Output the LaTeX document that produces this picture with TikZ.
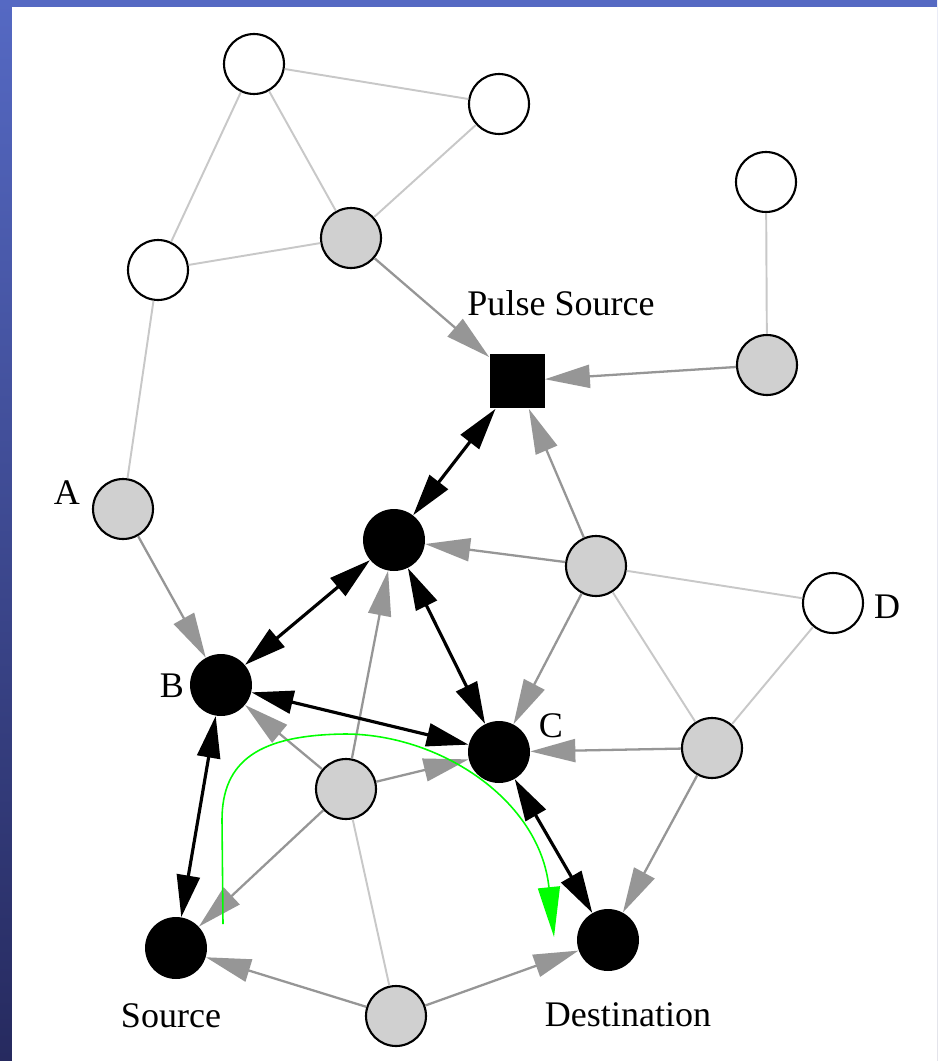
\documentclass[tikz,border=0pt]{standalone}
\usepackage{fontspec}
\setmainfont{Liberation Serif}
\usetikzlibrary{arrows.meta}

\definecolor{lieve}{RGB}{200,200,200}
\definecolor{medio}{RGB}{150,150,150}
\definecolor{nodogrigio}{RGB}{208,208,208}
\definecolor{verde}{RGB}{0,255,0}
\definecolor{bluchiaro}{RGB}{85,105,195}
\definecolor{bluscuro}{RGB}{38,42,95}

\tikzset{
    vuoto/.style={circle,draw,line width=1.2pt,fill=white,minimum size=1.2cm,inner sep=0pt},
    grigio/.style={vuoto,fill=nodogrigio},
    nero/.style={circle,fill=black,minimum size=1.24cm,inner sep=0pt},
    quadro/.style={rectangle,fill=black,minimum size=1.1cm,inner sep=0pt},
    etichetta/.style={font=\fontsize{20.5}{24}\selectfont,inner sep=0pt},
    link/.style={draw=lieve,line width=1.1pt},
    invio/.style={draw=medio,line width=1.3pt,-{Triangle[length=0.9cm,width=0.46cm]}},
    doppio/.style={line width=1.8pt,{Triangle[length=0.84cm,width=0.46cm]}-{Triangle[length=0.84cm,width=0.46cm]}}
}

\begin{document}
\begin{tikzpicture}[x=0.02cm,y=-0.02cm]
        \useasboundingbox (0,0) rectangle (937,1061);
        \shade[top color=bluchiaro,bottom color=bluscuro] (0,0) rectangle (937,1061);
        \fill[white] (12,7) rectangle (937,1061);

        %%%%%%%%%% Nodi %%%%%%%%%%
        \node[vuoto] (w1) at (254,64) {};
        \node[vuoto] (w2) at (499,104) {};
        \node[grigio] (g1) at (351,238) {};
        \node[vuoto] (w3) at (158,270) {};
        \node[vuoto] (w4) at (766,182) {};
        \node[grigio] (g2) at (767,365) {};
        \node[quadro] (ps) at (517,381) {};
        \node[grigio] (a) at (123,509) {};
        \node[nero] (m) at (394,540) {};
        \node[grigio] (g3) at (596,566) {};
        \node[vuoto] (d) at (833,603) {};
        \node[nero] (b) at (221,685) {};
        \node[nero] (c) at (499,752) {};
        \node[grigio] (g4) at (712,748) {};
        \node[grigio] (g5) at (346,789) {};
        \node[nero] (src) at (176,948) {};
        \node[nero] (dst) at (608,940) {};
        \node[grigio] (g6) at (396,1016) {};

        %%%%%%%%% Etichette %%%%%%%%%
        \node[etichetta] (lps) at (561,303) {Pulse Source};
        \node[etichetta] (la) at (67,493) {A};
        \node[etichetta] (lb) at (172,686) {B};
        \node[etichetta] (lc) at (551,726) {C};
        \node[etichetta] (ld) at (887,607) {D};
        \node[etichetta] (lsrc) at (171,1016) {Source};
        \node[etichetta] (ldst) at (628,1015) {Destination};

        %%%%%%%%% Collegamenti %%%%%%%%%
        \draw[link] (w1) -- (w2);
        \draw[link] (w1) -- (w3);
        \draw[link] (w1) -- (g1);
        \draw[link] (g1) -- (w2);
        \draw[link] (w3) -- (g1);
        \draw[link] (w3) -- (a);
        \draw[link] (w4) -- (g2);
        \draw[link] (g3) -- (d);
        \draw[link] (g3) -- (g4);
        \draw[link] (d) -- (g4);
        \draw[link] (g5) -- (g6);

        %%%%%%%%% Frecce %%%%%%%%%
        \draw[invio] (g1) -- (ps);
        \draw[invio] (g2) -- (ps);
        \draw[invio] (g3) -- (ps);
        \draw[invio] (g3) -- (m);
        \draw[invio] (g3) -- (c);
        \draw[invio] (g4) -- (c);
        \draw[invio] (g4) -- (dst);
        \draw[invio] (a) -- (b);
        \draw[invio] (g5) -- (b);
        \draw[invio] (g5) -- (m);
        \draw[invio] (g5) -- (c);
        \draw[invio] (g5) -- (src);
        \draw[invio] (g6) -- (src);
        \draw[invio] (g6) -- (dst);

        \draw[doppio] (ps) -- (m);
        \draw[doppio] (m) -- (b);
        \draw[doppio] (m) -- (c);
        \draw[doppio] (b) -- (c);
        \draw[doppio] (b) -- (src);
        \draw[doppio] (c) -- (dst);

        %%%%%%%%% Percorso %%%%%%%%%
        \coordinate (gs) at (223,924);
        \coordinate (ge) at (554,937);
        \draw[verde,line width=0.9pt,-{Triangle[length=1cm,width=0.44cm]}] (gs) -- (222,820)
            .. controls (222,760) and (260,735) .. (345,734)
            .. controls (440,734) and (540,800) .. (ge);
\end{tikzpicture}
\end{document}
